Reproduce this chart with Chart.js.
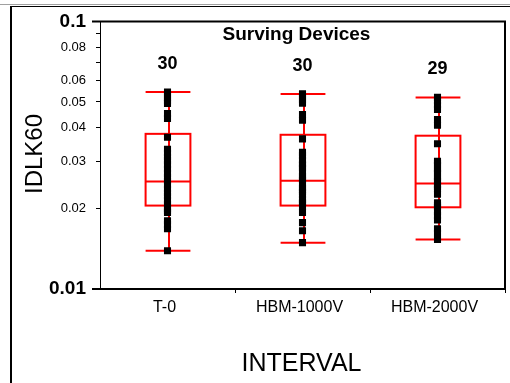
<!DOCTYPE html>
<html>
<head>
<meta charset="utf-8">
<script src="https://cdn.jsdelivr.net/npm/chart.js@4"></script>
<style>
  html, body { margin: 0; padding: 0; background: #fff; }
</style>
</head>
<body>
<canvas id="chart" width="510" height="383"></canvas>
<script>
const intervals = ['T-0', 'HBM-1000V', 'HBM-2000V'];

// IDLK60 readings per interval (one entry per surviving device)
const t0Values = [0.0545, 0.0531, 0.0517, 0.0504, 0.0494, 0.0453, 0.0434, 0.0369, 0.0333, 0.0323,
                  0.0312, 0.0302, 0.0292, 0.0281, 0.0270, 0.0262, 0.0254, 0.0246, 0.0237, 0.0229,
                  0.0222, 0.0214, 0.0207, 0.0200, 0.0196, 0.0193, 0.0180, 0.0174, 0.0168, 0.0139];
const hbm1000Values = [0.0536, 0.0522, 0.0508, 0.0495, 0.0449, 0.0427, 0.0364, 0.0324, 0.0315, 0.0304,
                       0.0294, 0.0290, 0.0284, 0.0275, 0.0265, 0.0260, 0.0256, 0.0248, 0.0239, 0.0235,
                       0.0231, 0.0224, 0.0216, 0.0212, 0.0209, 0.0202, 0.0193, 0.0177, 0.0165, 0.0149];
const hbm2000Values = [0.0520, 0.0506, 0.0487, 0.0469, 0.0430, 0.0409, 0.0349, 0.0300, 0.0296, 0.0290,
                       0.0281, 0.0276, 0.0271, 0.0262, 0.0258, 0.0253, 0.0245, 0.0241, 0.0236, 0.0226,
                       0.0210, 0.0206, 0.0202, 0.0195, 0.0188, 0.0181, 0.0168, 0.0162, 0.0153];

// box summaries, same order as intervals
const boxMin    = [0.0139, 0.0149, 0.0153];
const boxQ1     = [0.0205, 0.0205, 0.0202];
const boxMedian = [0.0252, 0.0254, 0.0248];
const boxQ3     = [0.0380, 0.0377, 0.0374];
const boxMax    = [0.0545, 0.0536, 0.0520];

const yTicks      = [0.01, 0.02, 0.03, 0.04, 0.05, 0.06, 0.07, 0.08, 0.09, 0.1];
const yTickLabels = ['0.01', '0.02', '0.03', '0.04', '0.05', '0.06', '', '0.08', '', '0.1'];

const groups = [t0Values, hbm1000Values, hbm2000Values];
const FONT = "'Liberation Sans', Arial, sans-serif";
const RED = '#ff0000';

function line(ctx, x1, y1, x2, y2) {
  ctx.beginPath();
  ctx.moveTo(x1, y1);
  ctx.lineTo(x2, y2);
  ctx.stroke();
}

// page frame, red boxes behind the points, plot border and text on top
const boxPlot = {
  id: 'boxPlot',
  beforeDraw(chart) {
    const ctx = chart.ctx;
    ctx.save();
    ctx.fillStyle = '#fff';
    ctx.fillRect(0, 0, chart.width, chart.height);
    ctx.lineWidth = 1;
    ctx.strokeStyle = '#a0a0a0';
    line(ctx, 0, 4.5, chart.width, 4.5);
    ctx.strokeStyle = '#000';
    line(ctx, 10, 6.5, chart.width, 6.5);
    ctx.lineWidth = 2;
    line(ctx, 11, 6, 11, chart.height);
    ctx.restore();
  },
  beforeDatasetsDraw(chart) {
    const ctx = chart.ctx;
    const x = chart.scales.x, y = chart.scales.y;
    const half = (x.width / intervals.length) * 0.166;
    ctx.save();
    ctx.strokeStyle = RED;
    ctx.lineWidth = 2;
    intervals.forEach((_, i) => {
      const cx = Math.round(x.getPixelForValue(i));
      const yMin = y.getPixelForValue(boxMin[i]);
      const yMax = y.getPixelForValue(boxMax[i]);
      const yQ1 = y.getPixelForValue(boxQ1[i]);
      const yQ3 = y.getPixelForValue(boxQ3[i]);
      const yMed = y.getPixelForValue(boxMedian[i]);
      line(ctx, cx + 1, yMax, cx + 1, yMin);
      line(ctx, cx - half, yMax, cx + half, yMax);
      line(ctx, cx - half, yMin, cx + half, yMin);
      ctx.strokeRect(cx - half, yQ3, half * 2, yQ1 - yQ3);
      line(ctx, cx - half, yMed, cx + half, yMed);
    });
    ctx.restore();
  },
  afterDraw(chart) {
    const ctx = chart.ctx;
    const { left, right, top, bottom } = chart.chartArea;
    const x = chart.scales.x, y = chart.scales.y;
    ctx.save();
    ctx.strokeStyle = '#000';
    ctx.lineWidth = 1;
    line(ctx, left + 0.5, top, left + 0.5, bottom);
    ctx.lineWidth = 2;
    line(ctx, left - 8, top, right + 1, top);
    line(ctx, left - 8, bottom, right + 1, bottom);
    line(ctx, right, top, right, bottom);

    ctx.fillStyle = '#000';
    ctx.textAlign = 'center';
    ctx.textBaseline = 'middle';
    ctx.font = 'bold 19px ' + FONT;
    ctx.fillText('Surving Devices', (left + right) / 2 - 6, top + 13);

    ctx.font = 'bold 18px ' + FONT;
    groups.forEach((vals, i) => {
      ctx.fillText(String(vals.length), x.getPixelForValue(i), y.getPixelForValue(boxMax[i]) - 28);
    });

    ctx.textBaseline = 'alphabetic';
    ctx.font = '25px ' + FONT;
    ctx.fillText('INTERVAL', (left + right) / 2 - 1, 371);

    ctx.translate(42, 154);
    ctx.rotate(-Math.PI / 2);
    ctx.font = '24px ' + FONT;
    ctx.fillText('IDLK60', 0, 0);
    ctx.restore();
  }
};

new Chart(document.getElementById('chart'), {
  type: 'line',
  data: {
    labels: intervals,
    datasets: groups.map((vals, i) => ({
      label: intervals[i],
      data: vals.map(v => ({ x: intervals[i], y: v })),
      showLine: false,
      pointStyle: 'rect',
      pointRadius: 5,
      pointBorderWidth: 0,
      pointBackgroundColor: '#000',
      pointBorderColor: '#000'
    }))
  },
  options: {
    responsive: false,
    animation: false,
    events: [],
    layout: { padding: { top: 20, right: 4, left: 0, bottom: 0 } },
    plugins: { legend: { display: false }, tooltip: { enabled: false } },
    scales: {
      x: {
        type: 'category',
        offset: true,
        afterFit: s => { s.height = 94; },
        border: { display: false },
        grid: {
          offset: true,
          drawOnChartArea: false,
          tickLength: 4,
          lineWidth: 1,
          color: c => (c.index === 0 || c.index === intervals.length) ? 'rgba(0,0,0,0)' : '#000'
        },
        ticks: {
          color: '#000',
          font: { family: FONT, size: 16 },
          padding: 5,
          labelOffset: -3,
          maxRotation: 0,
          autoSkip: false
        }
      },
      y: {
        type: 'logarithmic',
        min: yTicks[0],
        max: yTicks[yTicks.length - 1],
        afterFit: s => { s.width = 100; },
        afterBuildTicks: s => { s.ticks = yTicks.map(v => ({ value: v })); },
        border: { display: false },
        grid: { drawOnChartArea: false, tickLength: 4, color: '#000', lineWidth: 1 },
        ticks: {
          color: '#000',
          padding: 10,
          autoSkip: false,
          callback: v => yTickLabels[yTicks.indexOf(v)],
          font: c => (c.tick && (c.tick.value === 0.1 || c.tick.value === 0.01))
            ? { family: FONT, size: 19, weight: 'bold' }
            : { family: FONT, size: 13 }
        }
      }
    }
  },
  plugins: [boxPlot]
});
</script>
</body>
</html>
